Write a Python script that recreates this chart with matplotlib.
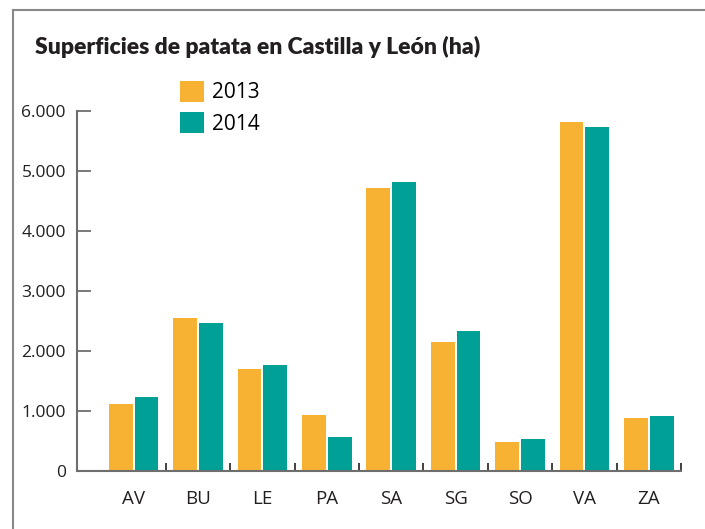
import matplotlib
matplotlib.use("Agg")
import matplotlib.pyplot as plt
from matplotlib.lines import Line2D
from matplotlib.ticker import FuncFormatter, FixedLocator
import numpy as np

provincias = ["AV", "BU", "LE", "PA", "SA", "SG", "SO", "VA", "ZA"]
ha_2013 = [1110, 2545, 1695, 928, 4710, 2145, 490, 5810, 888]
ha_2014 = [1228, 2462, 1760, 572, 4810, 2328, 528, 5728, 911]
anios = ["2013", "2014"]
colores = ["#F7B234", "#00A096"]

fig = plt.figure(figsize=(7.05, 5.29), dpi=100)
ax = fig.add_axes([77/705, 1-471/529, (681-77)/705, (471-111)/529])

x = np.arange(len(provincias))
w = 0.37
ax.bar(x - 0.2, ha_2013, w, color=colores[0], label=anios[0])
ax.bar(x + 0.2, ha_2014, w, color=colores[1], label=anios[1])

ax.set_xlim(-0.88, 8.5)
ax.set_ylim(0, 6000)

gris = "#6e6e6e"
for s in ["top", "right"]:
    ax.spines[s].set_visible(False)
for s in ["left", "bottom"]:
    ax.spines[s].set_color(gris)
    ax.spines[s].set_linewidth(1.5)

ax.set_yticks(range(0, 6001, 1000))
ax.yaxis.set_major_formatter(FuncFormatter(lambda v, p: f"{int(v):,}".replace(",", ".")))
ax.tick_params(axis="y", direction="in", length=10, width=1.3, color=gris,
               pad=8, labelsize=12.5, labelcolor="#231f20")

ax.set_xticks(x)
ax.set_xticklabels(provincias)
ax.xaxis.set_minor_locator(FixedLocator(np.arange(0.5, 9, 1)))
ax.tick_params(axis="x", which="major", length=0, pad=14, labelsize=13.5, labelcolor="#231f20")
ax.tick_params(axis="x", which="minor", direction="in", length=6, width=1.3, color="#333333")

for lab in ax.get_xticklabels() + ax.get_yticklabels():
    lab.set_family("Open Sans")

fig.text(35/705, 1-47/529, "Superficies de patata en Castilla y León (ha)",
         fontsize=16.5, fontweight="heavy", family="Lato", color="#231f20",
         va="center", ha="left")

ax.legend(loc="upper left", bbox_to_anchor=(180/705, 1-81/529), bbox_transform=fig.transFigure,
          frameon=False, borderpad=0, borderaxespad=0,
          handlelength=1.15, handleheight=1.15, handletextpad=0.4, labelspacing=0.43,
          prop={"family": "Open Sans", "size": 15})

# marco del recuadro
fig.add_artist(Line2D([13/705, 1], [1-10/529, 1-10/529], transform=fig.transFigure, color="#888888", lw=1.5))
fig.add_artist(Line2D([13/705, 13/705], [0, 1-10/529], transform=fig.transFigure, color="#888888", lw=1.5))

fig.savefig("out.png", dpi=100)
